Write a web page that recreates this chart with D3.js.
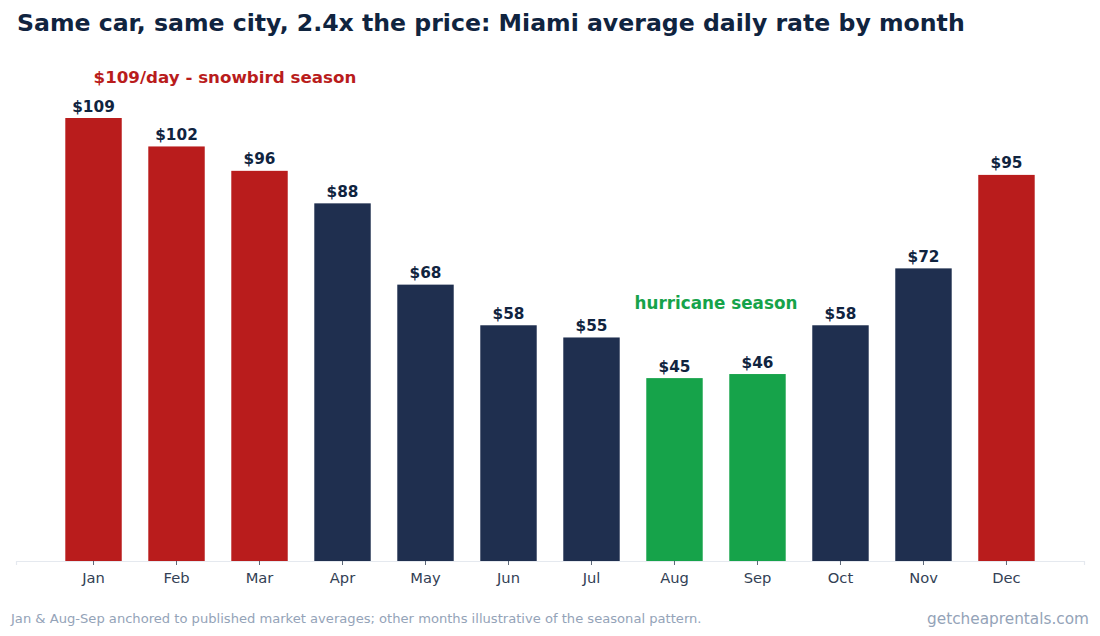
<!DOCTYPE html>
<html>
<head>
<meta charset="utf-8">
<script src="https://cdn.jsdelivr.net/npm/d3@7"></script>
<style>
  body { margin: 0; background: #fff; }
  text { font-family: "DejaVu Sans", sans-serif; }
</style>
</head>
<body>
<svg id="chart"></svg>
<script>
// monthly average daily rate (USD), Miami
const months = ['Jan', 'Feb', 'Mar', 'Apr', 'May', 'Jun', 'Jul', 'Aug', 'Sep', 'Oct', 'Nov', 'Dec'];
const rates = [109, 102, 96, 88, 68, 58, 55, 45, 46, 58, 72, 95];
const seasons = ['peak', 'peak', 'peak', 'mid', 'mid', 'mid', 'mid', 'low', 'low', 'mid', 'mid', 'peak'];

const W = 1100, H = 636;
const colors = { peak: '#b91c1c', mid: '#1f2f4f', low: '#16a34a' };
const dark = '#10243f';

const svg = d3.select('#chart')
  .attr('width', W)
  .attr('height', H);

const data = months.map((m, i) => ({ month: m, rate: rates[i], season: seasons[i] }));

const x = d3.scaleBand()
  .domain(months)
  .range([16, 1084])
  .paddingInner(0.32)
  .paddingOuter(0.594);

const y = d3.scaleLinear()
  .domain([0, 109])
  .range([561, 118]);

// title
svg.append('text')
  .attr('x', 17)
  .attr('y', 31)
  .attr('fill', dark)
  .style('font-size', '23.6px')
  .style('font-weight', 'bold')
  .text('Same car, same city, 2.4x the price: Miami average daily rate by month');

// bars
svg.selectAll('rect.bar')
  .data(data)
  .enter()
  .append('rect')
  .attr('class', 'bar')
  .attr('x', d => x(d.month))
  .attr('y', d => y(d.rate))
  .attr('width', x.bandwidth())
  .attr('height', d => y(0) - y(d.rate))
  .attr('fill', d => colors[d.season]);

// value labels
svg.selectAll('text.val')
  .data(data)
  .enter()
  .append('text')
  .attr('class', 'val')
  .attr('x', d => x(d.month) + x.bandwidth() / 2)
  .attr('y', d => y(d.rate) - 6.5)
  .attr('text-anchor', 'middle')
  .attr('fill', dark)
  .style('font-size', '15.3px')
  .style('font-weight', 'bold')
  .text(d => '$' + d.rate);

// x axis
const xAxis = svg.append('g')
  .attr('transform', `translate(0, ${y(0)})`)
  .call(d3.axisBottom(x).tickSize(4).tickPadding(8));
xAxis.select('.domain').attr('stroke', '#e5e9ef').attr('stroke-width', 1.2);
xAxis.selectAll('.tick line').attr('stroke', '#334155').attr('stroke-width', 0.8);
xAxis.selectAll('.tick text')
  .attr('fill', '#334155')
  .style('font-size', '14.7px')
  .style('font-family', '"DejaVu Sans", sans-serif');

// annotations
svg.append('text')
  .attr('x', x('Jan') + x.bandwidth() / 2)
  .attr('y', 83)
  .attr('fill', colors.peak)
  .style('font-size', '16.7px')
  .style('font-weight', 'bold')
  .text('$109/day - snowbird season');

svg.append('text')
  .attr('x', (x('Aug') + x('Sep') + x.bandwidth()) / 2)
  .attr('y', y(62))
  .attr('text-anchor', 'middle')
  .attr('fill', colors.low)
  .style('font-size', '16.8px')
  .style('font-weight', 'bold')
  .text('hurricane season');

// footer
svg.append('text')
  .attr('x', 11)
  .attr('y', 623)
  .attr('fill', '#94a3b8')
  .style('font-size', '13.1px')
  .text('Jan & Aug-Sep anchored to published market averages; other months illustrative of the seasonal pattern.');

svg.append('text')
  .attr('x', 1089)
  .attr('y', 624)
  .attr('text-anchor', 'end')
  .attr('fill', '#94a3b8')
  .style('font-size', '15.3px')
  .text('getcheaprentals.com');
</script>
</body>
</html>
